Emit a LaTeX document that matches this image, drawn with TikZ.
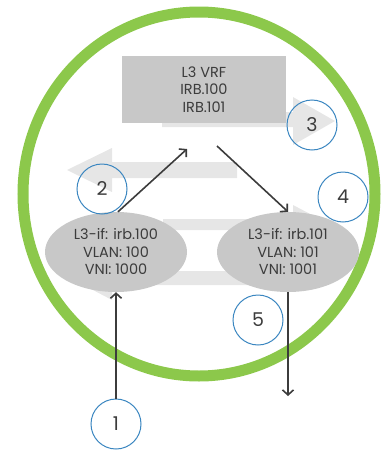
\documentclass[tikz,border=0pt]{standalone}
\usepackage{fontspec}
\setmainfont{Poppins}
\usepackage{xcolor}
\usetikzlibrary{positioning, arrows.meta, calc, shapes.geometric}
\definecolor{ringgreen}{HTML}{8CC84B}
\definecolor{boxgray}{HTML}{C8C8C8}
\definecolor{flowgray}{HTML}{E6E6E6}
\definecolor{stepblue}{HTML}{3A86C0}
\definecolor{textgray}{HTML}{3C3C3C}

\tikzset{
  zone/.style={fill=boxgray, text=textgray, font=\fontsize{14.5}{17.5}\selectfont,
               align=center, inner sep=0pt},
  stepmark/.style={circle, draw=stepblue, line width=1pt, minimum size=50pt,
                   text=textgray, font=\fontsize{19}{19}\selectfont},
  flow/.style={draw=textgray, line width=1.6pt, -{Straight Barb[length=5pt, width=11pt]}},
}

\begin{document}
\begin{tikzpicture}[x=1pt, y=-1pt]
  \useasboundingbox (0,0) rectangle (381,450);
  % outer ring
  \draw[ringgreen, line width=11pt] (199,194) ellipse (176pt and 182pt);
  % faint flow arrows in the back
  \fill[flowgray] (162,112) -- (293,112) -- (293,97) -- (335,121) -- (293,145)
    -- (293,127) -- (162,127) -- cycle;
  \fill[flowgray] (237,162) -- (112,162) -- (112,148) -- (67,170) -- (112,192)
    -- (112,178) -- (237,178) -- cycle;
  \fill[flowgray] (163,219) -- (293,219) -- (293,205) -- (335,227) -- (293,249)
    -- (293,230) -- (163,230) -- cycle;
  \fill[flowgray] (273,271) -- (112,271) -- (112,256) -- (70,278) -- (112,300)
    -- (112,285) -- (273,285) -- cycle;
  % routing parts
  \node[zone, minimum width=164pt, minimum height=67pt] (vrf) at (204,89.5)
    {L3 VRF\\IRB.100\\IRB.101};
  \node[zone, ellipse, minimum width=142pt, minimum height=80pt] (lif) at (116,252)
    {L3-if: irb.100\\VLAN: 100\\VNI: 1000};
  \node[zone, ellipse, minimum width=142pt, minimum height=80pt] (rif) at (288,252)
    {L3-if: irb.101\\VLAN: 101\\VNI: 1001};
  % step numbers
  \node[stepmark] (s1) at (116,424) {1};
  \node[stepmark] (s2) at (102,189) {2};
  \node[stepmark] (s3) at (312,125) {3};
  \node[stepmark] (s4) at (343,197) {4};
  \node[stepmark] (s5) at (258,320) {5};
  % packet path
  \coordinate (up) at (187,149);
  \coordinate (down) at (217,146);
  \coordinate (out) at (288,396);
  \draw[flow] (s1.north) -- (lif.south);
  \draw[flow] ([xshift=2pt]lif.north) -- (up);
  \draw[flow] (down) -- (rif.north);
  \draw[flow] (rif.south) -- (out);
\end{tikzpicture}
\end{document}
